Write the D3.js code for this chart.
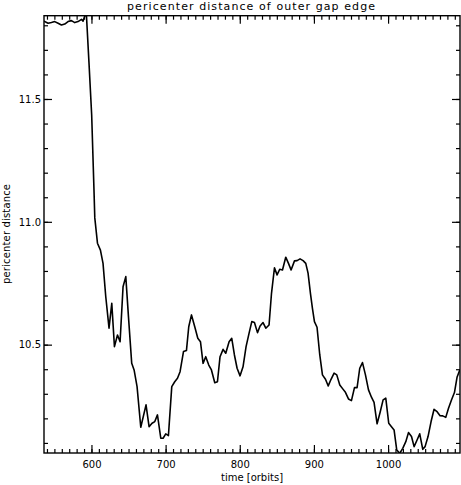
<!DOCTYPE html>
<html>
<head>
<meta charset="utf-8">
<script src="https://cdn.jsdelivr.net/npm/d3@7"></script>
<style>
  body { margin: 0; background: #fff; }
  svg { display: block; }
  text { font-family: "DejaVu Sans", sans-serif; fill: #000; }
</style>
</head>
<body>
<svg width="461" height="485"></svg>
<script>
// time in orbits
var times = [536, 541.5, 546, 550.5, 555, 559.5, 564, 568.4, 573, 577.5, 581.9, 586.5, 588.7, 591,
  593, 596.6, 600.3, 603.4, 604.5, 608.1, 612.1, 615.6, 619.3, 623.7, 627.4, 631, 635.1, 638.6,
  642.6, 646.3, 649.9, 654.3, 657.5, 661.5, 666.5, 673.6, 677.7, 681.7, 685.4, 689, 693.5, 696.6,
  700.2, 703.8, 708.3, 712.3, 716, 719.5, 724.1, 728.1, 731.2, 734.9, 739.3, 743.4, 747, 750.5,
  754.1, 758.2, 761.8, 766.3, 769.9, 773.4, 777.5, 781.1, 785.6, 789.2, 792.8, 796.4, 800.4,
  804.4, 808.5, 812.5, 816.2, 819.8, 823.9, 827.4, 831.4, 835.1, 839.5, 842.8, 846.8, 850.3,
  853.9, 857.6, 862, 865.7, 869.2, 873.8, 877.3, 881.3, 885.4, 889, 892.1, 895.3, 898, 900.7,
  904.2, 907.9, 911.5, 915.6, 919.3, 923.1, 927.2, 930.8, 934.9, 938.9, 942.5, 946.6, 950.6,
  954.7, 958.2, 961.8, 965.5, 969.5, 973.6, 977.6, 981.1, 985.2, 989.2, 993.3, 996.9, 1000.9,
  1004.6, 1008.1, 1011.7, 1015.8, 1019.8, 1023.9, 1027.5, 1031.6, 1035.1, 1039.1, 1042.7,
  1046.8, 1049.9, 1053.9, 1058, 1062, 1066.1, 1070.1, 1073.8, 1077.8, 1081.5, 1085.5, 1089.5,
  1093, 1096.7];

// pericenter distance
var values = [11.817, 11.808, 11.811, 11.815, 11.808, 11.801, 11.805, 11.815, 11.819, 11.811,
  11.815, 11.824, 11.817, 11.838,
  11.854, 11.651, 11.435, 11.130, 11.016, 10.913, 10.885, 10.831, 10.695, 10.567, 10.668,
  10.492, 10.539, 10.512, 10.736, 10.777, 10.614, 10.424, 10.397, 10.329, 10.164, 10.255,
  10.166, 10.180, 10.187, 10.214, 10.119, 10.119, 10.137, 10.130, 10.329, 10.349, 10.363,
  10.390, 10.472, 10.476, 10.573, 10.621, 10.573, 10.526, 10.512, 10.424, 10.451, 10.417,
  10.397, 10.345, 10.349, 10.451, 10.481, 10.465, 10.512, 10.526, 10.458, 10.404, 10.373,
  10.410, 10.492, 10.546, 10.594, 10.590, 10.549, 10.576, 10.590, 10.567, 10.580, 10.709,
  10.813, 10.784, 10.807, 10.804, 10.856, 10.831, 10.804, 10.841, 10.842, 10.849, 10.842,
  10.831, 10.791, 10.709, 10.648, 10.594, 10.571, 10.458, 10.377, 10.359, 10.332, 10.359,
  10.384, 10.377, 10.336, 10.320, 10.306, 10.279, 10.272, 10.325, 10.325, 10.404, 10.427,
  10.377, 10.316, 10.286, 10.265, 10.178, 10.224, 10.275, 10.282, 10.180, 10.166, 10.153,
  10.071, 10.058, 10.078, 10.105, 10.142, 10.126, 10.085, 10.112, 10.137, 10.074, 10.085,
  10.126, 10.187, 10.237, 10.227, 10.211, 10.210, 10.204, 10.241, 10.275, 10.305, 10.367,
  10.397];

var xTicks = [600, 700, 800, 900, 1000];
var yTicks = [10.5, 11.0, 11.5];
var xDomain = [536, 1097];
var yDomain = [10.059, 11.839];

var svg = d3.select("svg");
// plot box edges (window.top is read-only, so no "top" here)
var plotL = 44, plotR = 460, plotT = 15.7, plotB = 453;

var x = d3.scaleLinear().domain(xDomain).range([plotL, plotR]);
var y = d3.scaleLinear().domain(yDomain).range([plotB, plotT]);

var xMinor = d3.range(540, 1097, 10);
var yMinor = d3.range(10.1, 11.84, 0.1).map(function(v) { return Math.round(v * 10) / 10; });

function styleAxis(g) {
  g.select(".domain").remove();
  g.selectAll("line").attr("stroke", "#000").attr("stroke-width", 1.2);
  g.selectAll("text").attr("font-size", 10).attr("font-family", "DejaVu Sans, sans-serif");
}

// minor ticks, all four sides
svg.append("g").attr("transform", "translate(0," + plotB + ")")
  .call(d3.axisBottom(x).tickValues(xMinor).tickSizeInner(-4).tickSizeOuter(0).tickFormat(""))
  .call(styleAxis);
svg.append("g").attr("transform", "translate(0," + plotT + ")")
  .call(d3.axisTop(x).tickValues(xMinor).tickSizeInner(-4).tickSizeOuter(0).tickFormat(""))
  .call(styleAxis);
svg.append("g").attr("transform", "translate(" + plotL + ",0)")
  .call(d3.axisLeft(y).tickValues(yMinor).tickSizeInner(-4).tickSizeOuter(0).tickFormat(""))
  .call(styleAxis);
svg.append("g").attr("transform", "translate(" + plotR + ",0)")
  .call(d3.axisRight(y).tickValues(yMinor).tickSizeInner(-4).tickSizeOuter(0).tickFormat(""))
  .call(styleAxis);

// major ticks
svg.append("g").attr("transform", "translate(0," + plotB + ")")
  .call(d3.axisBottom(x).tickValues(xTicks).tickSizeInner(-8).tickSizeOuter(0).tickPadding(8).tickFormat(d3.format("d")))
  .call(styleAxis);
svg.append("g").attr("transform", "translate(0," + plotT + ")")
  .call(d3.axisTop(x).tickValues(xTicks).tickSizeInner(-8).tickSizeOuter(0).tickFormat(""))
  .call(styleAxis);
svg.append("g").attr("transform", "translate(" + plotL + ",0)")
  .call(d3.axisLeft(y).tickValues(yTicks).tickSizeInner(-8).tickSizeOuter(0).tickPadding(3).tickFormat(d3.format(".1f")))
  .call(styleAxis);
svg.append("g").attr("transform", "translate(" + plotR + ",0)")
  .call(d3.axisRight(y).tickValues(yTicks).tickSizeInner(-8).tickSizeOuter(0).tickFormat(""))
  .call(styleAxis);

// frame
svg.append("rect")
  .attr("x", plotL).attr("y", plotT)
  .attr("width", plotR - plotL).attr("height", plotB - plotT)
  .attr("fill", "none").attr("stroke", "#000").attr("stroke-width", 1.4);

svg.append("clipPath").attr("id", "clip")
  .append("rect")
  .attr("x", plotL).attr("y", plotT)
  .attr("width", plotR - plotL).attr("height", plotB - plotT);

var line = d3.line()
  .x(function(d, i) { return x(times[i]); })
  .y(function(d) { return y(d); });

svg.append("path")
  .datum(values)
  .attr("clip-path", "url(#clip)")
  .attr("fill", "none")
  .attr("stroke", "#000")
  .attr("stroke-width", 1.6)
  .attr("stroke-linejoin", "round")
  .attr("d", line);

// labels
svg.append("text")
  .attr("x", 251).attr("y", 10)
  .attr("text-anchor", "middle")
  .attr("font-size", 11)
  .attr("textLength", 248).attr("lengthAdjust", "spacing")
  .text("pericenter distance of outer gap edge");

svg.append("text")
  .attr("x", 252).attr("y", 481)
  .attr("text-anchor", "middle")
  .attr("font-size", 10)
  .text("time [orbits]");

svg.append("text")
  .attr("transform", "translate(10,234) rotate(-90)")
  .attr("text-anchor", "middle")
  .attr("font-size", 10)
  .attr("textLength", 100).attr("lengthAdjust", "spacing")
  .text("pericenter distance");
</script>
</body>
</html>
